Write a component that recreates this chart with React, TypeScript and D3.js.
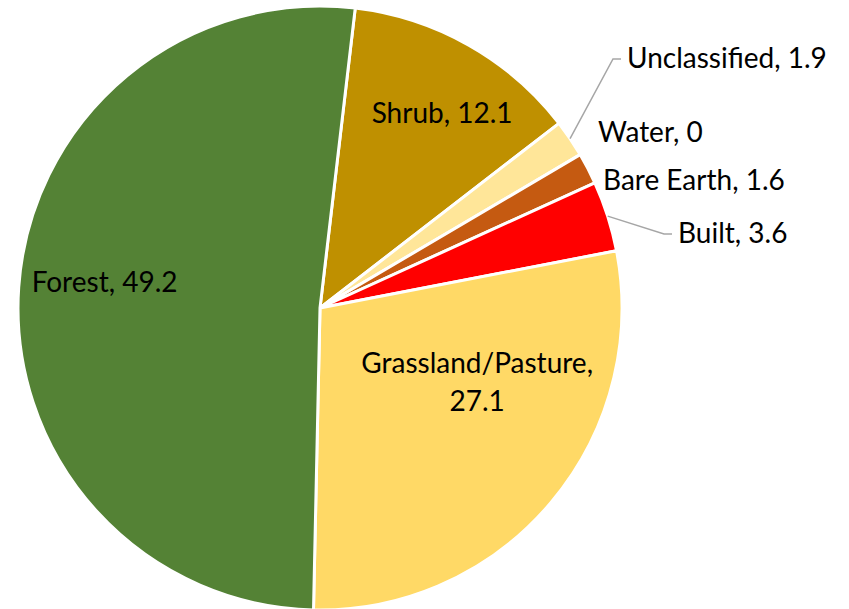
import React from "react";
import * as d3 from "d3";

const categories = ["Shrub", "Unclassified", "Water", "Bare Earth", "Built", "Grassland/Pasture", "Forest"];
const values = [12.1, 1.9, 0, 1.6, 3.6, 27.1, 49.2];
const colors = ["#BF9000", "#FFE699", "#5B9BD5", "#C55A11", "#FF0000", "#FFD966", "#548235"];

const W = 849;
const H = 609;
const CX = 320;
const CY = 308;
const R = 302;
const START_DEG = 6.7;
const FONT = "Lato, 'Open Sans', sans-serif";
const FS = 28;

// label layout: inside labels are centroid + offset; outside labels at anchor positions relative to centre
const insideOffsets: Record<string, [number, number]> = {
  "Shrub": [15, -6],
  "Forest": [1.5, -11],
  "Grassland/Pasture": [-9, -65],
};
const outsideLabels: Record<string, { x: number; y: number; leader: boolean }> = {
  "Unclassified": { x: 307, y: -240, leader: true },
  "Water": { x: 278, y: -166, leader: false },
  "Bare Earth": { x: 283, y: -118, leader: false },
  "Built": { x: 358, y: -65, leader: true },
};

export default function App() {
  const data = categories.map((c, i) => ({ name: c, value: values[i], color: colors[i] }));
  const a0 = (START_DEG * Math.PI) / 180;
  const pie = d3
    .pie<{ name: string; value: number; color: string }>()
    .sort(null)
    .value((d) => d.value)
    .startAngle(a0)
    .endAngle(a0 + 2 * Math.PI);
  const arcs = pie(data);
  const arc = d3.arc<d3.PieArcDatum<any>>().innerRadius(0).outerRadius(R);
  const labelArc = d3.arc<d3.PieArcDatum<any>>().innerRadius(R * 0.72).outerRadius(R * 0.72);
  const outerArc = d3.arc<d3.PieArcDatum<any>>().innerRadius(R).outerRadius(R);

  return (
    <svg
      width={W}
      height={H}
      style={{ position: "absolute", left: 0, top: 0, background: "#fff" }}
    >
      <g transform={`translate(${CX},${CY})`}>
        {arcs
          .filter((a) => a.data.value > 0)
          .map((a) => (
            <path key={a.data.name} d={arc(a) || ""} fill={a.data.color} stroke="#fff" strokeWidth={3} strokeLinejoin="round" />
          ))}
        {arcs.map((a) => {
          const name = a.data.name;
          const label = `${name}, ${a.data.value}`;
          if (insideOffsets[name]) {
            const [cx, cy] = labelArc.centroid(a);
            const [dx, dy] = insideOffsets[name];
            if (name === "Grassland/Pasture") {
              return (
                <text key={name} x={cx + dx} y={cy + dy} textAnchor="middle" fontFamily={FONT} fontSize={FS} fill="#000">
                  <tspan x={cx + dx} dy="-0.35em">{`${name},`}</tspan>
                  <tspan x={cx + dx} dy="1.36em">{`${a.data.value}`}</tspan>
                </text>
              );
            }
            return (
              <text key={name} x={cx + dx} y={cy + dy} dy="0.35em" textAnchor="middle" fontFamily={FONT} fontSize={FS} fill="#000">
                {label}
              </text>
            );
          }
          const o = outsideLabels[name];
          if (!o) return null;
          const [sx, sy] = outerArc.centroid(a);
          const lineY = o.y - 9;
          return (
            <g key={name}>
              {o.leader && (
                <polyline
                  points={`${sx},${sy} ${o.x - 14},${lineY} ${o.x - 6},${lineY}`}
                  fill="none"
                  stroke="#A6A6A6"
                  strokeWidth={1.5}
                />
              )}
              <text x={o.x} y={o.y} textAnchor="start" fontFamily={FONT} fontSize={FS} fill="#000">
                {label}
              </text>
            </g>
          );
        })}
      </g>
    </svg>
  );
}
